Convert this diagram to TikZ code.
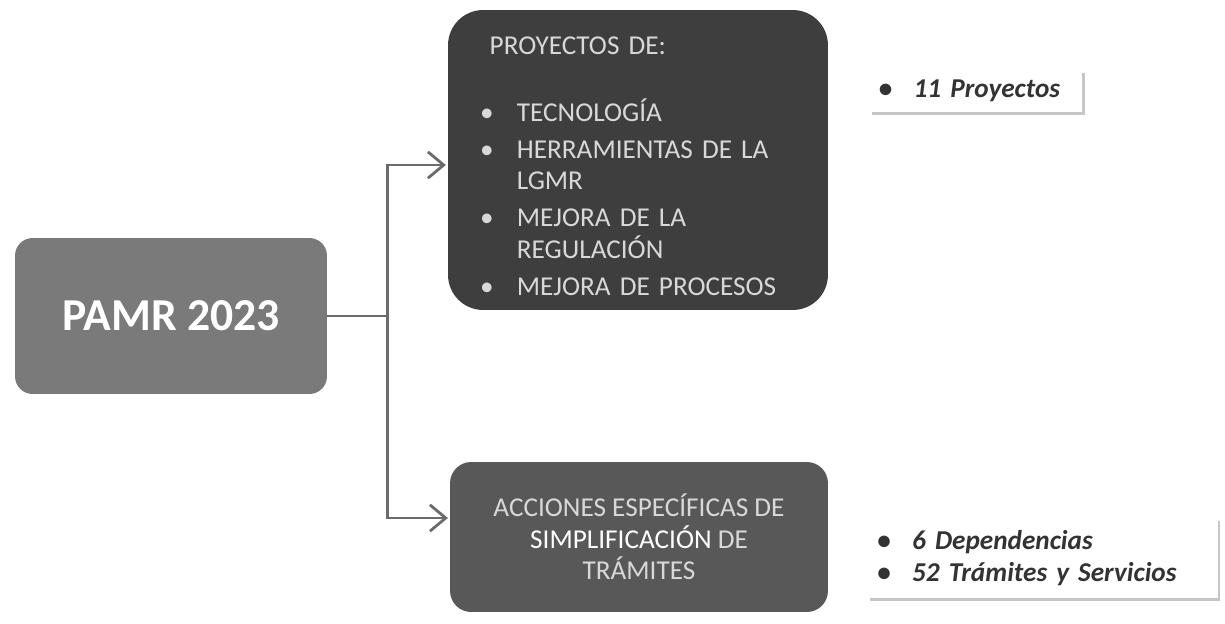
\documentclass[tikz,border=0pt]{standalone}
\usepackage{fontspec}
\setmainfont{Carlito}
\usepackage{xcolor}
\usetikzlibrary{positioning, calc, arrows.meta, shadows}

\definecolor{boxdark}{HTML}{3E3E3E}
\definecolor{boxmid}{HTML}{585858}
\definecolor{boxlight}{HTML}{7A7A7A}
\definecolor{linegray}{HTML}{6B6B6B}
\definecolor{textlight}{HTML}{D8D8D8}
\definecolor{textdark}{HTML}{333333}

\newcommand{\bul}{\makebox[21pt][l]{\textbullet}}

\begin{document}
\begin{tikzpicture}[x=0.02cm, y=-0.02cm,
    link/.style={draw=linegray, line width=1.6pt},
    arrowtip/.style={-{Straight Barb[length=9pt, width=15pt]}, shorten >=1pt},
    note/.style={fill=white, align=left, inner xsep=0.18cm, font=\fontsize{15.5}{18.5}\selectfont\bfseries\itshape, text=textdark,
        drop shadow={shadow xshift=1.2pt, shadow yshift=-1.5pt, opacity=.45}}]

    % Page size
    \useasboundingbox (0,0) rectangle (1225,623);

    % Main box
    \node[fill=boxlight, rounded corners=10pt, minimum width=6.24cm, minimum height=3.12cm, text=white,
        font=\fontsize{26}{30}\selectfont\bfseries] (pamr) at (171,316) {PAMR 2023};

    % Project box
    \node[fill=boxdark, rounded corners=20pt, minimum width=7.6cm, minimum height=6cm, inner xsep=0.64cm,
        text width=6.32cm, align=left, text=textlight, font=\fontsize{15.5}{18}\selectfont] (topbox) at (638,160) {%
        \rule{0pt}{17pt}\hspace*{5.5pt}PROYECTOS DE:\\[20pt]
        \bul TECNOLOGÍA\\[3pt]
        \bul HERRAMIENTAS DE LA\\
        \hspace*{21pt}LGMR\\[3pt]
        \bul MEJORA DE LA\\
        \hspace*{21pt}REGULACIÓN\\[3pt]
        \bul MEJORA DE PROCESOS};

    % Actions box
    \node[fill=boxmid, rounded corners=12pt, minimum width=7.56cm, minimum height=3cm, align=center,
        text=textlight, font=\fontsize{15.5}{18}\selectfont] (actbox) at (639,537) {%
        ACCIONES ESPECÍFICAS DE\\
        {\color{white}SIMPLIFICACIÓN} DE\\
        TRÁMITES};

    % Side notes
    \node[note, minimum width=4.26cm, minimum height=0.84cm, text width=3.9cm] (projnote) at (976,91)
        {\makebox[20pt][l]{\textbullet}11 Proyectos};
    \node[note, minimum width=7cm, minimum height=1.6cm, text width=6.64cm] (actnote) at (1043,558)
        {\makebox[20pt][l]{\textbullet}6 Dependencias\\
         \makebox[20pt][l]{\textbullet}52 Trámites y Servicios};

    % Connectors
    \coordinate (fork) at ($(pamr.east)+(60,0)$);
    \draw[link] (pamr.east) -- (fork);
    \draw[link, arrowtip] (fork) |- ($(topbox.west)+(0,5)$);
    \draw[link, arrowtip] (fork) |- ($(actbox.west)+(0,-19)$);

\end{tikzpicture}
\end{document}
